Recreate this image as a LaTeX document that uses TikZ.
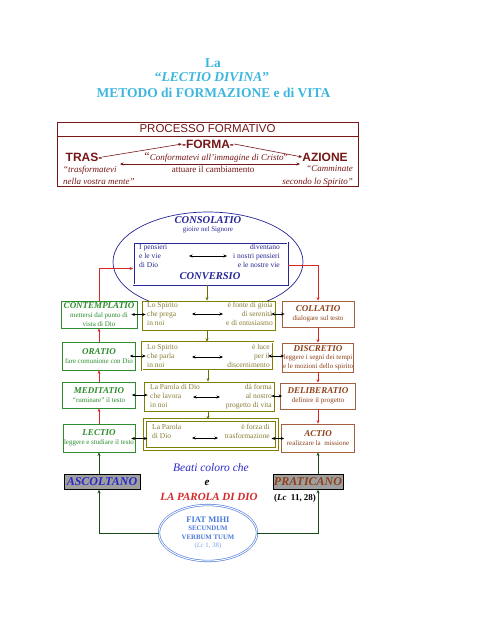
\documentclass[tikz,border=0pt]{standalone}
\usepackage{fontspec}
\setmainfont{Liberation Serif}
\newfontfamily\arialfont{Liberation Sans}
\usetikzlibrary{arrows.meta,shapes.geometric}

\definecolor{titlecyan}{RGB}{60,182,222}
\definecolor{procred}{RGB}{118,22,22}
\definecolor{convblue}{RGB}{38,38,150}
\definecolor{lgreen}{RGB}{45,140,45}
\definecolor{olivebox}{RGB}{128,128,0}
\definecolor{olivetxt}{RGB}{135,125,50}
\definecolor{brownbox}{RGB}{165,95,65}
\definecolor{browntxt}{RGB}{140,65,25}
\definecolor{linkred}{RGB}{215,40,40}
\definecolor{dkgreen}{RGB}{25,75,25}
\definecolor{fiatblue}{RGB}{70,120,215}
\definecolor{beatiblue}{RGB}{40,40,200}

\newcommand{\btitle}[1]{{\fontsize{9}{10}\selectfont\bfseries\itshape #1}}

\begin{document}
\begin{tikzpicture}[x=1pt, y=-1pt, >={Stealth[length=3.5pt, width=3pt]},
    titletxt/.style={text=titlecyan, inner sep=0pt, font=\fontsize{13.5}{15}\selectfont\bfseries},
    procbig/.style={text=procred, inner sep=0pt, font=\arialfont\bfseries\fontsize{12}{14}\selectfont},
    proctxt/.style={text=procred, inner sep=0pt, font=\fontsize{9}{13}\selectfont},
    procarrow/.style={draw=procred, line width=0.6pt},
    lbox/.style={draw=lgreen, line width=0.8pt, fill=white, text=lgreen, align=center, inner sep=0pt,
        minimum width=74pt, minimum height=28pt, font=\fontsize{7}{8.6}\selectfont},
    rbox/.style={lbox, draw=brownbox, text=browntxt},
    mbox/.style={draw=olivebox, line width=0.8pt, fill=white, minimum width=132pt, minimum height=29pt, inner sep=0pt},
    mtxt/.style={text=olivetxt, inner sep=0pt, font=\fontsize{7.5}{8.7}\selectfont},
    ctxt/.style={text=convblue, inner sep=0pt, font=\fontsize{7.5}{8.7}\selectfont},
    ctitle/.style={text=convblue, inner sep=0pt, font=\fontsize{10.5}{12}\selectfont\bfseries\itshape},
    redlink/.style={draw=linkred, line width=1pt, ->},
    olivelink/.style={draw=olivebox!85!black, line width=0.5pt, ->},
    greenlink/.style={draw=dkgreen, line width=0.9pt, ->},
    duo/.style={<->, line width=0.6pt},
    tagbox/.style={fill=gray!75, draw=black, line width=0.5pt, inner sep=0pt, minimum height=15pt,
        font=\fontsize{12}{14}\selectfont\bfseries\itshape}]
\useasboundingbox (0,0) rectangle (495,640);

% titolo
\node[titletxt] (tla) at (213,63) {La};
\node[titletxt] (tlectio) at (212,77) {“\textit{LECTIO DIVINA}”};
\node[titletxt] (tmetodo) at (213.5,93) {METODO di FORMAZIONE e di VITA};

% processo formativo
\node[draw=procred, line width=0.7pt, minimum width=301pt, minimum height=14pt, inner sep=0pt,
    text=procred, font=\arialfont\fontsize{11.5}{13}\selectfont] (prochead) at (207.5,129) {PROCESSO FORMATIVO};
\node[draw=procred, line width=0.9pt, minimum width=301pt, minimum height=50pt] (procbody) at (207.5,161) {};
\node[procbig] (forma) at (208,144) {-FORMA-};
\node[procbig] (tras) at (84,157) {TRAS-};
\node[procbig] (azione) at (325,157) {AZIONE};
\draw[procarrow, ->] (tras.east) -- (forma.west);
\draw[procarrow, ->] (forma.east) -- (azione.west);
\coordinate (camL) at (120,164);
\coordinate (camR) at (300,164);
\draw[procarrow, <->] (camL) -- (camR);
\node[proctxt] (conform) at (216,157) {{\fontsize{12}{13}\selectfont“}\textit{Conformatevi all’immagine di Cristo}”};
\node[proctxt] (attuare) at (213,169) {attuare il cambiamento};
\node[proctxt, anchor=north west, align=left, font=\fontsize{9}{12.5}\selectfont\itshape] (trasf) at (63,165.5) {“trasformatevi\\nella vostra mente”};
\node[proctxt, anchor=north east, align=right, font=\fontsize{9}{12.5}\selectfont\itshape] (cammin) at (353,165.5) {“Camminate\\secondo lo Spirito”};

% consolatio / conversio
\node[draw=convblue, ellipse, line width=0.7pt, minimum width=190pt, minimum height=100pt] (consol) at (208,262) {};
\node[ctitle] (consolatio) at (208,220) {CONSOLATIO};
\node[ctxt, font=\fontsize{7}{8}\selectfont] (gioire) at (208,229.5) {gioire nel Signore};
\node[draw=convblue, double, double distance=1pt, line width=0.5pt, fill=white,
    minimum width=154pt, minimum height=42pt] (conv) at (210.5,263.5) {};
\node[ctxt, anchor=north west, align=left] (pensdio) at (139,244.5) {I pensieri\\e le vie\\di Dio};
\node[ctxt, anchor=north east, align=right] (pensnostri) at (280,244.5) {diventano\\i nostri pensieri\\e le nostre vie};
\node[ctitle] (conversio) at (210,276) {CONVERSIO};
\draw[duo] ([xshift=-21.5pt, yshift=7.5pt]conv.center) -- ([xshift=16.5pt, yshift=7.5pt]conv.center);

% colonna sinistra
\node[lbox, minimum width=76pt, minimum height=27pt] (contemp) at (99,314.5) {\btitle{CONTEMPLATIO}\\mettersi dal punto di\\vista di Dio};
\node[lbox, minimum width=73pt] (oratio) at (99,356) {\btitle{ORATIO}\\fare comunione con Dio};
\node[lbox, minimum width=73pt, minimum height=26pt] (medit) at (99,395) {\btitle{MEDITATIO}\\“ruminare” il testo};
\node[lbox, minimum width=72pt] (lectio) at (99,438) {\btitle{LECTIO}\\leggere e studiare il testo};

% colonna destra
\node[rbox, minimum width=72pt, minimum height=26pt] (collatio) at (318,314) {\btitle{COLLATIO}\\dialogare sul testo};
\node[rbox, minimum width=71pt, minimum height=29pt] (discretio) at (318,357.5) {\btitle{DISCRETIO}\\leggere i segni dei tempi\\e le mozioni dello spirito};
\node[rbox, minimum width=75pt, minimum height=26pt] (deliber) at (318,396) {\btitle{DELIBERATIO}\\definire il progetto};
\node[rbox, minimum width=73pt] (actio) at (318,438) {\btitle{ACTIO}\\realizzare la~ missione};

% riquadri centrali
\node[mbox, minimum width=133pt] (m1) at (208.5,315.5) {};
\node[mbox, minimum width=131pt, minimum height=28pt, double, double distance=0.8pt, line width=0.5pt] (m2) at (207.5,356) {};
\node[mbox, minimum width=130pt] (m3) at (209,396.5) {};
\node[mbox, double, double distance=1.2pt, line width=1.1pt] (m4) at (211,434.5) {};
\node[mtxt, anchor=north west, align=left] (m1l) at (147,302.5) {Lo Spirito\\che prega\\in noi};
\node[mtxt, anchor=north east, align=right] (m1r) at (273,302.5) {è fonte di gioia\\di serenità\\e di entusiasmo};
\node[mtxt, anchor=north west, align=left] (m2l) at (147,344.5) {Lo Spirito\\che parla\\in noi};
\node[mtxt, anchor=north east, align=right] (m2r) at (270,344.5) {è luce\\per il\\discernimento};
\node[mtxt, anchor=north west, align=left] (m3l) at (150,384.5) {La Parola di Dio\\che lavora\\in noi};
\node[mtxt, anchor=north east, align=right] (m3r) at (272,384.5) {dà forma\\al nostro\\progetto di vita};
\node[mtxt, anchor=north west, align=left] (m4l) at (152,424.5) {La Parola\\di Dio};
\node[mtxt, anchor=north east, align=right] (m4r) at (270,424.5) {è forza di\\trasformazione};
\draw[duo] ([xshift=-16.5pt, yshift=1.5pt]m1.center) -- ([xshift=14.5pt, yshift=1.5pt]m1.center);
\draw[duo] ([xshift=-15.5pt, yshift=-1pt]m2.center) -- ([xshift=15.5pt, yshift=-1pt]m2.center);
\draw[duo] ([xshift=-16pt, yshift=-0.5pt]m3.center) -- ([xshift=11pt, yshift=-0.5pt]m3.center);
\draw[duo] ([xshift=-19pt, yshift=-3.5pt]m4.center) -- ([xshift=7pt, yshift=-3.5pt]m4.center);

% frecce laterali
\draw[duo, shorten <=-6pt, shorten >=-4pt] (contemp.east) -- (contemp.east -| m1.west);
\draw[duo, shorten <=-6pt, shorten >=-4pt] (oratio.east) -- (oratio.east -| m2.west);
\draw[duo, shorten <=-4pt, shorten >=-4pt] (medit.east) -- (medit.east -| m3.west);
\draw[duo, shorten <=-4pt, shorten >=-3pt] ([yshift=-0.5pt]lectio.east) -- ([yshift=-0.5pt]lectio.east -| m4.west);
\draw[duo, shorten <=-4pt, shorten >=-3pt] (m1.east |- collatio.west) -- (collatio.west);
\draw[duo, shorten <=-5pt, shorten >=-2pt] (m2.east) -- (m2.east -| discretio.west);
\draw[duo, shorten <=-3pt, shorten >=-2pt] (m3.east |- deliber.west) -- (deliber.west);
\draw[duo, shorten <=-6pt, shorten >=-3pt] ([yshift=-0.5pt]m4.east |- actio.west) -- ([yshift=-0.5pt]actio.west);

% collegamenti
\draw[redlink] (contemp.north) |- ([yshift=-5pt]conv.west);
\draw[redlink] ([yshift=-1.5pt]conv.east) -| (collatio.north);
\draw[redlink] (oratio.north) -- (contemp.south);
\draw[redlink] (medit.north) -- (oratio.south);
\draw[redlink] (lectio.north) -- (medit.south);
\draw[redlink] (collatio.south) -- (discretio.north);
\draw[redlink] (discretio.south) -- (deliber.north);
\draw[redlink] (deliber.south) -- (actio.north);
\draw[olivelink] (conv.south -| 207,0) -- (m1.north -| 207,0);
\draw[olivelink] (m1.south -| 207,0) -- (m2.north -| 207,0);
\draw[olivelink] (m2.south -| 208,0) -- (m3.north -| 208,0);
\draw[olivelink] (m3.south -| 208,0) -- (m4.north -| 208,0);

% beati
\node[tagbox, text=beatiblue, minimum width=76pt] (ascolt) at (102,482) {ASCOLTANO};
\node[tagbox, text=browntxt, minimum width=70pt] (pratic) at (308,482) {PRATICANO};
\node[inner sep=0pt, text=beatiblue, font=\fontsize{11.5}{13}\selectfont\itshape] (beati) at (211,468) {Beati coloro che};
\node[inner sep=0pt, font=\fontsize{11}{13}\selectfont\bfseries\itshape] (etxt) at (207,483) {e};
\node[inner sep=0pt, text=linkred, font=\fontsize{11}{13}\selectfont\bfseries\itshape] (parola) at (209,497) {LA PAROLA DI DIO};
\node[inner sep=0pt, font=\fontsize{9}{11}\selectfont\bfseries] (lc) at (295,498) {(\textit{Lc}~~11, 28)};
\node[draw=fiatblue, double, double distance=1pt, line width=0.6pt, ellipse, minimum width=98pt, minimum height=56pt,
    text=fiatblue, align=center, inner sep=0pt, font=\fontsize{6.8}{8.5}\selectfont\bfseries] (fiat) at (208,533)
    {{\fontsize{8.5}{9}\selectfont FIAT MIHI}\\SECUNDUM\\VERBUM TUUM\\{\mdseries\color{fiatblue!70}(\textit{Lc} 1, 38)}};
\draw[greenlink] (ascolt.north -| lectio.south) -- (lectio.south);
\draw[greenlink] (pratic.north -| actio.south) -- (actio.south);
\draw[greenlink] (fiat.west) -| (ascolt.south -| lectio.south);
\draw[greenlink] (fiat.east) -| (pratic.south -| actio.south);
\end{tikzpicture}
\end{document}
